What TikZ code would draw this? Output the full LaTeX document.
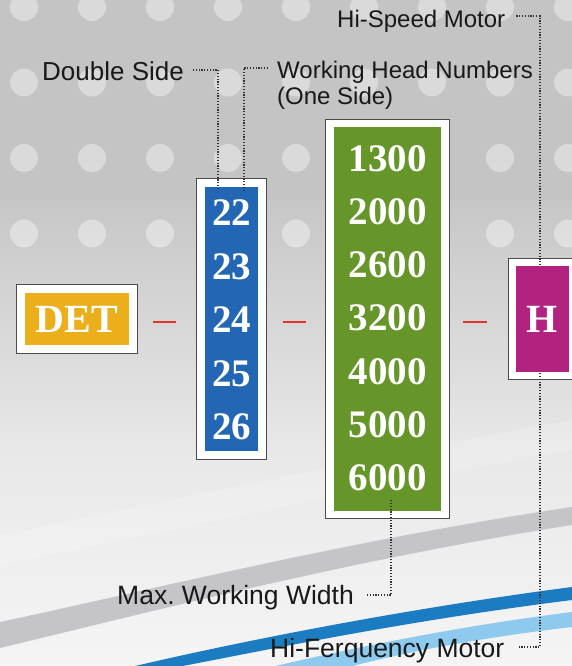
\documentclass[tikz,border=0pt]{standalone}
\usepackage{fontspec}
\setmainfont{Liberation Serif}
\newfontfamily\lblfont{Liberation Sans}
\usepackage{tikz}
\usetikzlibrary{calc,fit,backgrounds}
\definecolor{detgold}{HTML}{EAAF1B}
\definecolor{headblue}{HTML}{2366B3}
\definecolor{widthgreen}{HTML}{66962A}
\definecolor{motorpink}{HTML}{B1237F}
\definecolor{dashred}{HTML}{E4342A}
\definecolor{framegray}{HTML}{4A4A4A}
\definecolor{bandgray}{HTML}{C5C5C9}
\definecolor{banddark}{HTML}{1B7CC2}
\definecolor{bandlight}{HTML}{8DCAEE}
\tikzstyle{blk}=[rectangle, inner sep=0pt, text=white, font=\bfseries\fontsize{40}{40}\selectfont]
\tikzstyle{num}=[inner sep=0pt, text=white, font=\bfseries\fontsize{39}{39}\selectfont]
\tikzstyle{frame}=[draw=framegray, line width=1.3pt, fill=white, inner sep=8pt]
\tikzstyle{lbl}=[inner sep=0pt, anchor=base west, text=black!90]
\tikzstyle{lead}=[draw=black!80, line width=1.2pt, dash pattern=on 1.2pt off 1.6pt]
\tikzstyle{link}=[draw=dashred, line width=2.6pt]
\newcommand{\dotdx}{68}
\newcommand{\dotdy}{75.5}
\newcommand{\dotr}{14}
\pgfdeclarelayer{bg}
\pgfsetlayers{bg,background,main}

\begin{document}
\frenchspacing
\begin{tikzpicture}[x=1pt,y=-1pt]
\useasboundingbox (0,0) rectangle (572,666);
\begin{pgfonlayer}{bg}
\fill[black!23] (0,0) rectangle (572,201);
\shade[top color=black!22, middle color=black!14, bottom color=black!9] (0,200) rectangle (572,451);
\shade[top color=black!9, bottom color=black!4] (0,450) rectangle (572,666);
\fill[white, opacity=.18] (0,535) .. controls (200,495) and (400,450) .. (572,420) -- (572,450) .. controls (400,480) and (200,525) .. (0,565) -- cycle;
\foreach \c in {0,...,8} {
	\foreach \r in {0,...,3} {
		\fill[white, opacity=.38] (24+\c*\dotdx, 7+\r*\dotdy) circle (\dotr);
	}
}
\fill[bandgray] (0,622) .. controls (150,590) and (350,540) .. (572,507) -- (572,525) .. controls (350,560) and (150,612) .. (0,648) -- cycle;
\fill[banddark] (110,672) .. controls (200,650) and (380,612) .. (572,587) -- (572,600) .. controls (380,624) and (220,660) .. (150,672) -- cycle;
\fill[bandlight] (250,672) .. controls (350,648) and (460,626) .. (572,612) -- (572,627) .. controls (460,640) and (380,658) .. (330,672) -- cycle;
\end{pgfonlayer}
\node[blk, fill=detgold, minimum width=104, minimum height=52] (det) at (77,319) {DET};
\node[blk, fill=headblue, minimum width=53, minimum height=264] (heads) at (231.5,319) {};
\node[blk, fill=widthgreen, minimum width=107, minimum height=383] (widths) at (387.5,319) {};
\node[blk, fill=motorpink, minimum width=53, minimum height=106] (hmot) at (542.5,319) {H};
\foreach \n [count=\i from 0] in {22,23,24,25,26}
	\node[num] (hd\n) at ($(heads.north)+(0,26+53.5*\i)$) {\n};
\foreach \w [count=\i from 0] in {1300,2000,2600,3200,4000,5000,6000}
	\node[num] (wd\w) at ($(widths.north)+(0,31+53.3*\i)$) {\w};
\node[lbl, font=\lblfont\fontsize{26}{26}\selectfont] (dside) at (42,81) {Double Side};
\node[lbl, font=\lblfont\fontsize{24}{24}\selectfont] (headnum) at (277,79) {Working Head Numbers};
\node[lbl, font=\lblfont\fontsize{24}{24}\selectfont] (oneside) at ($(headnum.base west)+(0,26)$) {(One Side)};
\node[lbl, font=\lblfont\fontsize{24}{24}\selectfont] (hspeed) at (337,28) {Hi-Speed Motor};
\node[lbl, font=\lblfont\fontsize{26.5}{26.5}\selectfont] (maxw) at (117,604) {Max. Working Width};
\node[lbl, font=\lblfont\fontsize{26.5}{26.5}\selectfont] (hfreq) at (270,657) {Hi-Ferquency Motor};
\begin{scope}[on background layer]
\node[frame, fit=(det)] (detfr) {};
\node[frame, fit=(heads)] (headfr) {};
\node[frame, fit=(widths)] (widthfr) {};
\node[frame, inner sep=7pt, fit=(hmot)] (hmotfr) {};
\draw[lead] ($(hspeed.base east)+(11,-12)$) -| ($(hmot.center)+(-2.5,0)$) |- ($(hfreq.base east)+(13,-10)$);
\end{scope}
\draw[link, shorten <=15pt, shorten >=20pt] ($(detfr.east)+(0,3)$) -- ($(headfr.west)+(0,3)$);
\draw[link, shorten <=16pt, shorten >=19pt] ($(headfr.east)+(0,3)$) -- ($(widthfr.west)+(0,3)$);
\draw[link, shorten <=13pt, shorten >=21pt] ($(widthfr.east)+(0,3)$) -- ($(hmotfr.west)+(0,3)$);
\draw[lead] ($(dside.base east)+(9,-11)$) -| ($(heads.north)+(-13.5,3)$);
\draw[lead] ($(headnum.base west)+(-9,-11)$) -| ($(heads.north)+(12.5,3)$);
\draw[lead] ($(maxw.base east)+(13,-9)$) -| ($(widths.south)+(3.5,-12)$);
\end{tikzpicture}
\end{document}
